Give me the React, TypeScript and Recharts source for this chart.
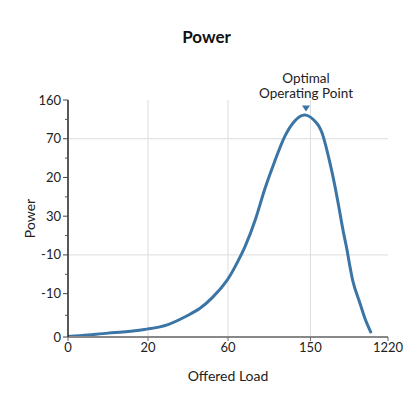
import React from "react";
import { LineChart, Line, XAxis, YAxis, ReferenceLine, ReferenceDot, Label } from "recharts";

// x positions are tick-index units (0..4), y in tick-index units (0 tick .. top tick)
const loadPos = [0, 0.25, 0.5, 0.75, 1.0, 1.25, 1.5, 1.65, 1.81, 1.99, 2.11, 2.21, 2.34, 2.46, 2.59, 2.71, 2.84, 2.975, 3.11, 3.19, 3.275, 3.34, 3.4, 3.45, 3.49, 3.56, 3.64, 3.71, 3.79];
const powerPos = [0.01, 0.05, 0.1, 0.14, 0.21, 0.32, 0.56, 0.74, 1.03, 1.47, 1.9, 2.32, 3.02, 3.82, 4.57, 5.18, 5.59, 5.73, 5.52, 5.18, 4.49, 3.86, 3.19, 2.63, 2.22, 1.45, 0.93, 0.49, 0.1];

const xTicks = [0, 1, 2, 3.03, 4];
const xLabels = ["0", "20", "60", "150", "1220"];
const yTicks = [0, 1.12, 2.12, 3.12, 4.12, 5.12, 6.12];
const yLabels = ["0", "-10", "-10", "30", "20", "70", "160"];
const yMinor = [0.56, 1.62, 2.62, 3.62, 4.62, 5.62];
const hGrid = [2.12, 5.12];
const vGrid = [1, 2, 3.03];

const peakIdx = 17;

const data = loadPos.map((x, i) => ({ x, y: powerPos[i] }));

const FONT = "Lato, 'Open Sans', sans-serif";
const BLUE = "#3b75a6";
const AXIS_X = 68;

const YTick = (props: any) => {
  const { y, payload } = props;
  const idx = yTicks.indexOf(payload.value);
  if (idx < 0) {
    return <line x1={AXIS_X - 3} x2={AXIS_X} y1={y} y2={y} stroke="#555" strokeWidth={1} />;
  }
  return (
    <g>
      <line x1={AXIS_X - 5} x2={AXIS_X} y1={y} y2={y} stroke="#444" strokeWidth={1} />
      <text x={AXIS_X - 7} y={y} dy={4.5} textAnchor="end" fontSize={13} fontFamily={FONT} fill="#222">
        {yLabels[idx]}
      </text>
    </g>
  );
};

const PeakMark = (props: any) => {
  const { cx, cy } = props;
  return (
    <g>
      <path d={`M${cx - 4},${cy - 9.5} L${cx + 4},${cy - 9.5} L${cx},${cy - 3.5} Z`} fill={BLUE} />
      <text x={cx} y={cy - 32.5} textAnchor="middle" fontSize={13.5} fontFamily={FONT} fill="#222">Optimal</text>
      <text x={cx} y={cy - 17.5} textAnchor="middle" fontSize={13.5} fontFamily={FONT} fill="#222">Operating Point</text>
    </g>
  );
};

export default function App() {
  return (
    <div style={{ position: "absolute", left: 0, top: 0, width: 413, height: 393, background: "#fff" }}>
      <div
        style={{
          position: "absolute",
          left: 0,
          top: 26,
          width: 413,
          textAlign: "center",
          fontFamily: FONT,
          fontWeight: 700,
          fontSize: 17,
          color: "#111",
        }}
      >
        Power
      </div>
      <LineChart width={413} height={393} data={data} margin={{ top: 100, right: 25, bottom: 0, left: 0 }}>
        {hGrid.map((v) => (
          <ReferenceLine key={"h" + v} y={v} stroke="#dcdcdc" strokeWidth={1} />
        ))}
        {vGrid.map((v) => (
          <ReferenceLine key={"v" + v} x={v} stroke="#dcdcdc" strokeWidth={1} />
        ))}
        <XAxis
          dataKey="x"
          type="number"
          domain={[0, 4]}
          ticks={xTicks}
          interval={0}
          height={56}
          tickFormatter={(v: number) => xLabels[xTicks.indexOf(v)]}
          tick={{ fontSize: 13, fontFamily: FONT, fill: "#222" }}
          tickSize={4}
          tickMargin={2}
          axisLine={{ stroke: "#888", strokeWidth: 2 }}
          tickLine={{ stroke: "#666" }}
        >
          <Label value="Offered Load" position="insideBottom" offset={12} fontSize={14} fontFamily={FONT} fill="#222" />
        </XAxis>
        <YAxis
          type="number"
          domain={[0, 6.12]}
          ticks={[...yTicks, ...yMinor].sort((a, b) => a - b)}
          interval={0}
          width={68}
          tick={<YTick />}
          tickLine={false}
          axisLine={{ stroke: "#222", strokeWidth: 1.5 }}
        >
          <Label
            content={(p: any) => {
              const vb = p.viewBox;
              const cy = vb.y + vb.height / 2;
              return (
                <text x={30} y={cy} transform={`rotate(-90 30 ${cy})`} textAnchor="middle" dy={5} fontSize={14} fontFamily={FONT} fill="#222">
                  Power
                </text>
              );
            }}
          />
        </YAxis>
        <Line
          type="natural"
          dataKey="y"
          stroke={BLUE}
          strokeWidth={3}
          dot={false}
          isAnimationActive={false}
        />
        <ReferenceDot x={loadPos[peakIdx]} y={powerPos[peakIdx]} shape={<PeakMark />} />
      </LineChart>
    </div>
  );
}
